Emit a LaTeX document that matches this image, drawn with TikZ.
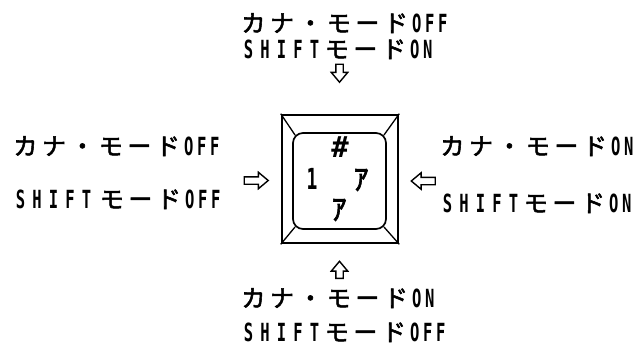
\documentclass[tikz,border=0pt]{standalone}
\usepackage{fontspec}
\usetikzlibrary{shapes.arrows,calc}
\newfontfamily\jpf[FakeBold=2.2]{Noto Sans CJK JP}
\newfontfamily\latf[FakeStretch=0.62]{DejaVu Sans Mono}
\newfontfamily\monof{DejaVu Sans Mono}

% set a string in fixed-width cells, one character per cell
\def\cellsEnd{\cellsEnd}
\newcommand\cells[2]{\cellsA{#1}#2\cellsEnd}
\def\cellsA#1#2{\ifx\cellsEnd#2\expandafter\cellsStop\else\expandafter\cellsB\fi{#1}{#2}}
\def\cellsStop#1#2{}
\def\cellsB#1#2{\makebox[#1][c]{#2}\cellsA{#1}}

\newcommand\J[1]{{\jpf\fontsize{24}{24}\selectfont\cells{28.5pt}{#1}}}
\newcommand\E[2]{{\latf\bfseries\fontsize{25}{25}\selectfont\cells{#1}{#2}}}
\newcommand\SH{\E{16.5pt}{SHIFT}}

\begin{document}
\begin{tikzpicture}[x=1pt,y=-1pt,
  label/.style={anchor=base west,inner sep=0pt},
  hollow/.style={single arrow,draw,line width=1.4pt,
    single arrow head extend=4.5pt,single arrow tip angle=80},
  hflat/.style={hollow,inner xsep=0pt,inner ysep=3pt},
  vflat/.style={hollow,inner xsep=3pt,inner ysep=0pt},
  keyedge/.style={line width=2.6pt},
  bevel/.style={line width=1.3pt}]
\fill[white] (0,0) rectangle (643,349);
\useasboundingbox (0,0) rectangle (643,349);

% key cap: outer square, rounded face, bevel lines
\node[draw,keyedge,minimum width=116pt,minimum height=128pt,inner sep=0pt] (key) at (340,179) {};
\node[draw,line width=1.7pt,rounded corners=10pt,minimum width=93pt,minimum height=96pt,inner sep=0pt] (face) at (339.5,181) {};
\draw[bevel] (key.north west) -- ($(face.north west)+(2.9,2.9)$);
\draw[bevel] (key.north east) -- ($(face.north east)+(-2.9,2.9)$);
\draw[bevel] (key.south west) -- ($(face.south west)+(2.9,-2.9)$);
\draw[bevel] (key.south east) -- ($(face.south east)+(-2.9,-2.9)$);

% legends on the key face
\node[inner sep=0pt] (sharp) at (340,147) {\monof\bfseries\fontsize{29}{29}\selectfont \#};
\node[inner sep=0pt] (one) at (312,179) {\latf\bfseries\fontsize{29}{29}\selectfont 1};
\node[inner sep=0pt] (kanaA) at (361,180) {\jpf\fontsize{30}{30}\selectfont ｱ};
\node[inner sep=0pt] (kanaB) at (339,210) {\jpf\fontsize{30}{30}\selectfont ｱ};

% hollow arrows towards the key
\node[vflat,minimum height=18pt,shape border rotate=270] (arrT) at (339.5,71) {};
\node[vflat,minimum height=17pt,shape border rotate=90] (arrB) at (339.5,272) {};
\node[hflat,minimum height=24pt] (arrL) at (254,180.5) {};
\node[hflat,minimum height=24pt,shape border rotate=180] (arrR) at (425.5,181) {};

% mode descriptions
\node[label] (t1) at (239,32) {\J{カナ・モード}\E{13pt}{OFF}};
\node[label] (t2) at (240,58) {\SH\J{モード}\E{13pt}{ON}};
\node[label] (l1) at (11,155) {\J{カナ・モード}\E{13pt}{OFF}};
\node[label] (l2) at (12,208) {\makebox[85.5pt][l]{\SH}\J{モード}\E{13pt}{OFF}};
\node[label] (r1) at (438,155) {\J{カナ・モード}\E{13pt}{ON}};
\node[label] (r2) at (439,212) {\SH\J{モード}\E{13pt}{ON}};
\node[label] (b1) at (239,307) {\J{カナ・モード}\E{13pt}{ON}};
\node[label] (b2) at (240,341) {\SH\J{モード}\E{13pt}{OFF}};
\end{tikzpicture}
\end{document}
